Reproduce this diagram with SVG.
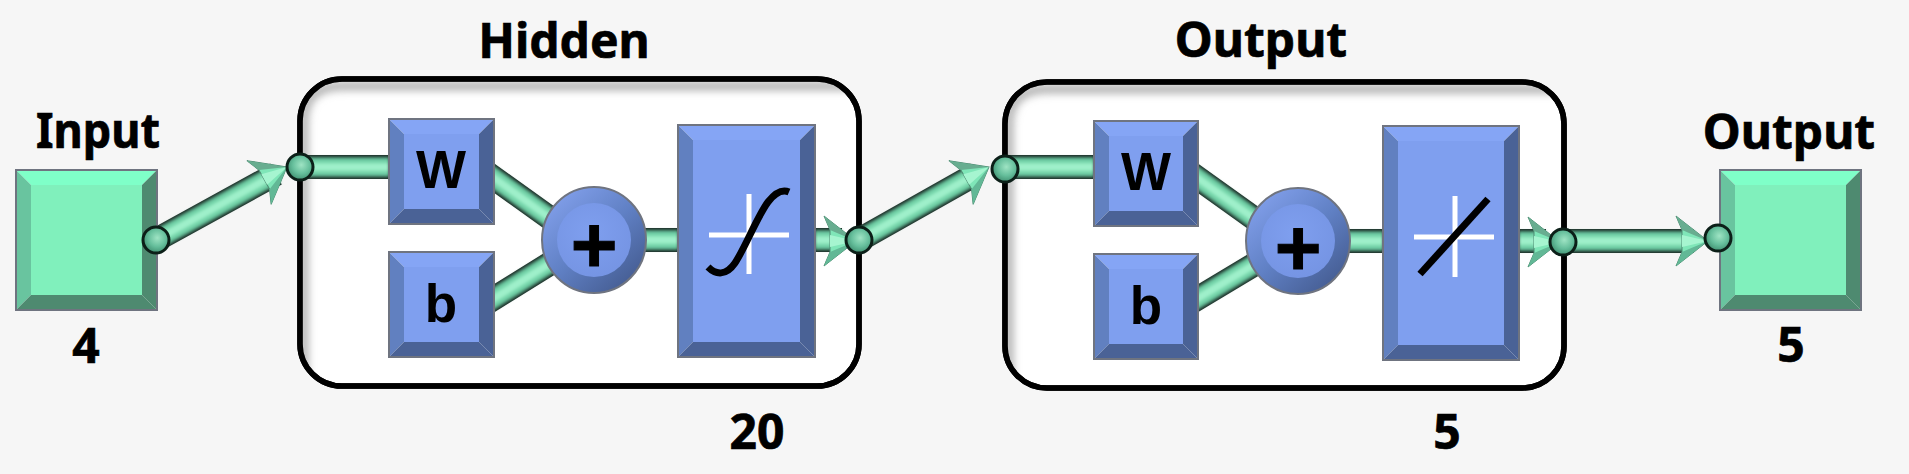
<svg xmlns="http://www.w3.org/2000/svg" xmlns:xlink="http://www.w3.org/1999/xlink" width="1909" height="474" viewBox="0 0 1909 474">
<style>
.lbl{font-family:"Noto Sans","Open Sans","Liberation Sans",sans-serif;font-weight:700;font-size:48px;fill:#000;stroke:#000;stroke-width:.7;text-anchor:middle}
.in{font-family:"Liberation Sans",Arial,sans-serif;font-weight:700;fill:#000;text-anchor:middle}
.frame{fill:#fff;stroke:#000;stroke-width:5.5}
.ring{fill:none;stroke:#000;stroke-width:5.5}
.shade{fill:none;stroke:#a8a8a8;stroke-width:8;filter:url(#soft)}
.edge{stroke:#6f7480;stroke-width:2;fill:none}
.t0,.t1,.t2,.t3{fill:none;stroke-linecap:butt}
.t0{stroke:#1d2b26;stroke-width:24}
.t1{stroke:#55a584;stroke-width:20}
.t2{stroke:#76d6ab;stroke-width:15}
.t3{stroke:#9ff0ca;stroke-width:7}
.cross{stroke:#fff;stroke-width:5;fill:none}
.curve{stroke:#000;stroke-width:7;fill:none}
.port{fill:url(#portG);stroke:#0c1f18;stroke-width:3}
</style>
<defs>
<filter id="soft" x="-10%" y="-10%" width="120%" height="120%"><feGaussianBlur stdDeviation="4"/></filter>
<filter id="tube" filterUnits="userSpaceOnUse" x="0" y="0" width="1909" height="474"><feGaussianBlur stdDeviation="1.6"/></filter>
<radialGradient id="portG" cx="0.55" cy="0.42" r="0.6">
<stop offset="0" stop-color="#9fe4c4"/><stop offset="0.55" stop-color="#66bf9c"/><stop offset="1" stop-color="#3f8f70"/>
</radialGradient>
<radialGradient id="sumFace" cx="0.45" cy="0.4" r="0.7">
<stop offset="0" stop-color="#7f9fef"/><stop offset="1" stop-color="#7493e2"/>
</radialGradient>
<linearGradient id="sumRim" x1="0.15" y1="0.1" x2="0.85" y2="0.9">
<stop offset="0" stop-color="#7f9de8"/><stop offset="0.5" stop-color="#6080c4"/><stop offset="1" stop-color="#465e94"/>
</linearGradient>
<path id="runs" d="M156,240 L276,174 M300,167 H389 M480,168 L575,236 M480,307 L575,248 M640,240 H678 M815,240 H842 M859,240 L976,174 M1005,167 H1094 M1185,169 L1280,237 M1185,306 L1280,249 M1345,241 H1383 M1519,241 H1546 M1563,241 H1694"/>
<g id="head">
<polygon points="0,0 -32,-25 -26,-11 -26,11 -32,25" fill="#7fe6b8" stroke="#4f8a72" stroke-width="1"/>
<polygon points="0,0 -32,-25 -26,-11" fill="#68ad90"/>
<polygon points="0,0 -26,11 -32,25" fill="#62b896"/>
<polygon points="0,0 -26,-6 -26,6" fill="#a6f5d0"/>
</g>
<clipPath id="c1"><rect x="300" y="79" width="559" height="307" rx="42"/></clipPath>
<clipPath id="c2"><rect x="1005" y="82" width="559" height="306" rx="42"/></clipPath>
</defs>
<rect width="1909" height="474" fill="#f6f6f6"/>

<g id="hidden-box">
<rect class="frame" x="300" y="79" width="559" height="307" rx="42"/>
<g clip-path="url(#c1)"><path class="shade" d="M304,386 V121 Q304,86 342,86 H850"/></g>
<rect class="ring" x="300" y="79" width="559" height="307" rx="42"/>
<text class="lbl" x="564" y="58">Hidden</text>
<text class="lbl" x="757" y="449">20</text>
</g>
<g id="output-box">
<rect class="frame" x="1005" y="82" width="559" height="306" rx="42"/>
<g clip-path="url(#c2)"><path class="shade" d="M1009,388 V124 Q1009,89 1047,89 H1555"/></g>
<rect class="ring" x="1005" y="82" width="559" height="306" rx="42"/>
<text class="lbl" x="1261" y="57">Output</text>
<text class="lbl" x="1447" y="449">5</text>
</g>

<g id="connectors">
<use xlink:href="#runs" href="#runs" class="t0"/>
<g filter="url(#tube)">
<use xlink:href="#runs" href="#runs" class="t1"/>
<use xlink:href="#runs" href="#runs" class="t2"/>
<use xlink:href="#runs" href="#runs" class="t3"/>
</g>
<use xlink:href="#head" href="#head" transform="translate(287,167) rotate(-29)"/>
<use xlink:href="#head" href="#head" transform="translate(856,241)"/>
<use xlink:href="#head" href="#head" transform="translate(989,167) rotate(-29)"/>
<use xlink:href="#head" href="#head" transform="translate(1560,242)"/>
<use xlink:href="#head" href="#head" transform="translate(1708,241)"/>
</g>

<g id="input-node">
<polygon points="16,170 157,170 142,185 31,185" fill="#7fffc8"/>
<polygon points="16,170 31,185 31,295 16,310" fill="#69c49f"/>
<polygon points="157,170 142,185 142,295 157,310" fill="#4e8a70"/>
<polygon points="16,310 31,295 142,295 157,310" fill="#4e8a70"/>
<rect x="31" y="185" width="111" height="110" fill="#80f0bc"/>
<rect class="edge" x="16" y="170" width="141" height="140"/>
<text class="lbl" x="98" y="148" textLength="124" lengthAdjust="spacingAndGlyphs">Input</text>
<text class="lbl" x="86" y="363">4</text>
</g>

<g id="output-node">
<polygon points="1720,170 1861,170 1846,185 1735,185" fill="#7fffc8"/>
<polygon points="1720,170 1735,185 1735,295 1720,310" fill="#69c49f"/>
<polygon points="1861,170 1846,185 1846,295 1861,310" fill="#4e8a70"/>
<polygon points="1720,310 1735,295 1846,295 1861,310" fill="#4e8a70"/>
<rect x="1735" y="185" width="111" height="110" fill="#80f0bc"/>
<rect class="edge" x="1720" y="170" width="141" height="140"/>
<text class="lbl" x="1789" y="149">Output</text>
<text class="lbl" x="1791" y="362">5</text>
</g>

<g id="w1">
<polygon points="389,119 494,119 479,134 404,134" fill="#85a5f5"/><polygon points="389,119 404,134 404,209 389,224" fill="#6180c0"/><polygon points="494,119 479,134 479,209 494,224" fill="#4a6296"/><polygon points="389,224 404,209 479,209 494,224" fill="#4a6296"/>
<rect x="404" y="134" width="75" height="75" fill="#7f9fef"/><rect class="edge" x="389" y="119" width="105" height="105"/>
<text class="in" x="441" y="188" font-size="53">W</text>
</g>
<g id="b1">
<polygon points="389,252 494,252 479,267 404,267" fill="#85a5f5"/><polygon points="389,252 404,267 404,342 389,357" fill="#6180c0"/><polygon points="494,252 479,267 479,342 494,357" fill="#4a6296"/><polygon points="389,357 404,342 479,342 494,357" fill="#4a6296"/>
<rect x="404" y="267" width="75" height="75" fill="#7f9fef"/><rect class="edge" x="389" y="252" width="105" height="105"/>
<text class="in" x="441" y="322" font-size="53">b</text>
</g>
<g id="sum1">
<ellipse cx="594" cy="240" rx="52" ry="53" fill="url(#sumRim)" stroke="#6f7480" stroke-width="2"/>
<circle cx="594" cy="240" r="37" fill="url(#sumFace)"/>
<text class="in" x="594" y="272" font-size="80" stroke="#000" stroke-width="1">+</text>
</g>
<g id="tansig">
<polygon points="678,125 815,125 800,140 693,140" fill="#85a5f5"/><polygon points="678,125 693,140 693,342 678,357" fill="#6180c0"/><polygon points="815,125 800,140 800,342 815,357" fill="#4a6296"/><polygon points="678,357 693,342 800,342 815,357" fill="#4a6296"/>
<rect x="693" y="140" width="107" height="202" fill="#7f9fef"/><rect class="edge" x="678" y="125" width="137" height="232"/>
<path class="cross" d="M709,235 H789 M749,194 V274"/>
<path class="curve" d="M708,267 C716,275 726,276 735,263 C745,248 758,215 768,202 C775,193 782,189 789,192"/>
</g>

<g id="w2">
<polygon points="1094,121 1198,121 1183,136 1109,136" fill="#85a5f5"/><polygon points="1094,121 1109,136 1109,211 1094,226" fill="#6180c0"/><polygon points="1198,121 1183,136 1183,211 1198,226" fill="#4a6296"/><polygon points="1094,226 1109,211 1183,211 1198,226" fill="#4a6296"/>
<rect x="1109" y="136" width="74" height="75" fill="#7f9fef"/><rect class="edge" x="1094" y="121" width="104" height="105"/>
<text class="in" x="1146" y="190" font-size="53">W</text>
</g>
<g id="b2">
<polygon points="1094,254 1198,254 1183,269 1109,269" fill="#85a5f5"/><polygon points="1094,254 1109,269 1109,344 1094,359" fill="#6180c0"/><polygon points="1198,254 1183,269 1183,344 1198,359" fill="#4a6296"/><polygon points="1094,359 1109,344 1183,344 1198,359" fill="#4a6296"/>
<rect x="1109" y="269" width="74" height="75" fill="#7f9fef"/><rect class="edge" x="1094" y="254" width="104" height="105"/>
<text class="in" x="1146" y="324" font-size="53">b</text>
</g>
<g id="sum2">
<ellipse cx="1298" cy="241" rx="52" ry="53" fill="url(#sumRim)" stroke="#6f7480" stroke-width="2"/>
<circle cx="1298" cy="241" r="37" fill="url(#sumFace)"/>
<text class="in" x="1298" y="275" font-size="80" stroke="#000" stroke-width="1">+</text>
</g>
<g id="purelin">
<polygon points="1383,126 1519,126 1504,141 1398,141" fill="#85a5f5"/><polygon points="1383,126 1398,141 1398,345 1383,360" fill="#6180c0"/><polygon points="1519,126 1504,141 1504,345 1519,360" fill="#4a6296"/><polygon points="1383,360 1398,345 1504,345 1519,360" fill="#4a6296"/>
<rect x="1398" y="141" width="106" height="204" fill="#7f9fef"/><rect class="edge" x="1383" y="126" width="136" height="234"/>
<path class="cross" d="M1414,237 H1494 M1455,196 V277"/>
<path class="curve" d="M1420,274 L1488,199"/>
</g>

<g id="ports">
<circle class="port" cx="156" cy="240" r="13"/>
<circle class="port" cx="300" cy="167" r="13"/>
<circle class="port" cx="859" cy="240" r="13"/>
<circle class="port" cx="1005" cy="169" r="13"/>
<circle class="port" cx="1563" cy="242" r="13"/>
<circle class="port" cx="1718" cy="238" r="13"/>
</g>
</svg>
